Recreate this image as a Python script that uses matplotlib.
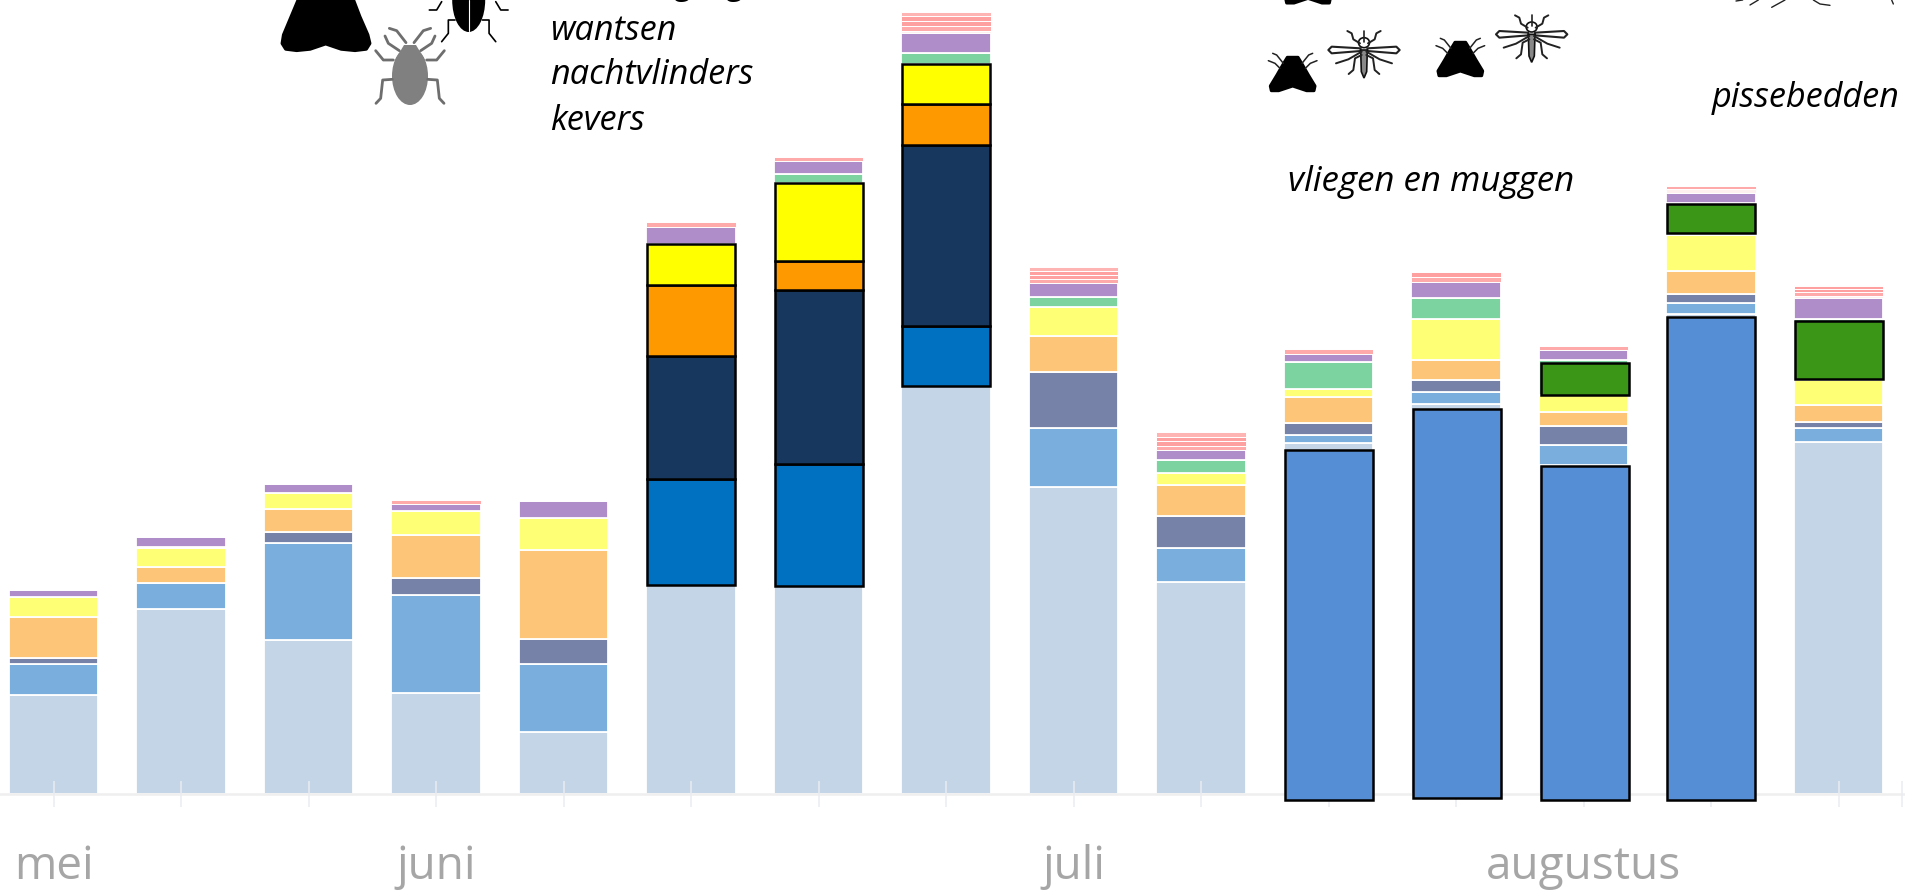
import matplotlib
matplotlib.use('Agg')
import numpy as np
import matplotlib.pyplot as plt
from matplotlib.patches import Polygon, Ellipse

plt.rcParams['font.family'] = ['Open Sans', 'DejaVu Sans']

maanden = ['mei', '', '', 'juni', '', '', '', '', 'juli', '', '', '', 'augustus', '', '']

# hoogte per groep, per week
overig = [98.1, 184.1, 153.1, 100.5, 61.5, 208.8, 207.3, 407.8, 306.8, 211.8, 350.3, 389.8, 328.8, 479.8, 351.8]
blauw = [31.3, 26.3, 97.7, 98.3, 68, 106, 122.5, 59.3, 58.7, 33.3, 8, 12, 20, 10.5, 14]
leisteen = [6.3, 0, 10.7, 16.7, 24.7, 123, 174, 181.7, 56.3, 32.7, 12.5, 12, 19, 9, 6]
oranje = [40.7, 15.7, 23.3, 43.3, 89, 71, 29, 40.5, 35.3, 31, 26, 19.5, 14, 23.5, 16.5]
geel = [19.7, 19, 16, 23.3, 32.7, 41, 78, 40.5, 29, 12, 8, 41.5, 17, 36, 25.5]
groen = [0, 1.5, 0, 0, 0, 0, 9, 11, 10, 13, 27, 21, 35, 31.5, 61]
paars = [7, 9.7, 8.7, 7.7, 16.3, 16.5, 12.5, 20, 14.4, 9.3, 8, 15.5, 10, 10, 21]
bleek = [0, 0, 0, 0, 0, 0, 0, 2, 0, 0, 0, 0, 0, 4, 2]
roze1 = [0, 0, 0, 4, 0, 5, 4.5, 4.8, 4, 4.5, 4.6, 5.3, 4, 3.5, 3.4]
roze2 = [0, 0, 0, 0, 0, 0, 0, 4.8, 4, 4.5, 0, 5.3, 0, 0, 3.4]
roze3 = [0, 0, 0, 0, 0, 0, 0, 4.8, 4, 4.5, 0, 0, 0, 0, 3.4]
roze4 = [0, 0, 0, 0, 0, 0, 0, 4.8, 4, 4.5, 0, 0, 0, 0, 0]

reeksen = [overig, blauw, leisteen, oranje, geel, groen, paars, bleek, roze1, roze2, roze3, roze4]
kleuren = ['#C5D5E8', '#7AAEDC', '#7682A8', '#FDC578', '#FFFF75', '#7DD3A0', '#AF8DC8',
           '#FFF0F0', '#FFAAAA', '#FFA0A0', '#FFA0A0', '#FFB4B4']
randen = [1.3, 1.3, 1.3, 1.3, 1.3, 1.3, 1.3, 0.7, 0.7, 0.7, 0.7, 0.7]

# omlijnde vakken
vet_weken = [5, 6, 7]
vet_kleuren = ['#0070C0', '#17375E', '#FF9900', '#FFFF00']

vlieg_x = [10, 11.01, 12.01, 13]
vlieg_onder = [-6, -4.7, -6, -6]
vlieg_boven = [343.8, 384.8, 327.8, 476.8]

pisse_x = [12.01, 13, 14]
pisse_onder = [398.8, 560.5, 414.5]
pisse_boven = [430.5, 589.1, 472.1]

fig = plt.figure(figsize=(19.05, 8.91), dpi=100)
ax = fig.add_axes([0, 0, 1, 1])
x = np.arange(15)

onder = np.zeros(15)
for waarden, kleur, rand in zip(reeksen, kleuren, randen):
    ax.bar(x, waarden, 0.7, bottom=onder, color=kleur, edgecolor='white', linewidth=rand, zorder=1)
    onder = onder + np.array(waarden)

hoog = np.array(overig, dtype=float)
for waarden, kleur in zip([blauw, leisteen, oranje, geel], vet_kleuren):
    w = np.array(waarden)
    ax.bar(vet_weken, w[vet_weken], 0.69, bottom=hoog[vet_weken], color=kleur,
           edgecolor='black', linewidth=1.8, zorder=3)
    hoog = hoog + w

ax.bar(vlieg_x, np.array(vlieg_boven) - np.array(vlieg_onder), 0.69, bottom=vlieg_onder,
       color='#558ED5', edgecolor='black', linewidth=1.8, zorder=3)
ax.bar(pisse_x, np.array(pisse_boven) - np.array(pisse_onder), 0.69, bottom=pisse_onder,
       color='#3B9617', edgecolor='black', linewidth=1.8, zorder=3)

ax.set_xlim(-53.6 / 127.5, (1905 - 53.6) / 127.5)
ax.set_ylim(-97.5, 793.5)
for kant in ['top', 'left', 'right']:
    ax.spines[kant].set_visible(False)
ax.spines['bottom'].set_position(('data', 0))
ax.spines['bottom'].set_color('#EFEFEF')
ax.spines['bottom'].set_linewidth(1.8)
ax.set_xticks(list(x) + [14.5])
ax.set_xticklabels(maanden + [''], fontsize=33, color='#A6A6A6')
ax.tick_params(axis='x', direction='inout', length=19.4, width=1.1, color='#E9ECF0', pad=27)
ax.set_axisbelow(False)
ax.set_yticks([])

# tekst en insecten in beeldpunten
top = fig.add_axes([0, 0, 1, 1], zorder=5)
top.set_xlim(0, 1905)
top.set_ylim(891, 0)
top.axis('off')
top.patch.set_alpha(0)

for tekst, tx, ty, grootte in [('vliesvleugeligen', 550, -6, 24.7), ('wantsen', 550, 39.5, 24.7),
                               ('nachtvlinders', 550, 84.5, 24.7), ('kevers', 550, 129.5, 24.7),
                               ('vliegen en muggen', 1288, 191, 25.1), ('pissebedden', 1712, 107, 24.7)]:
    top.text(tx, ty, tekst, fontsize=grootte, style='italic', color='black', va='baseline', ha='left')


def lijn(pts, kleur='black', dikte=1.0):
    pts = np.array(pts, dtype=float)
    top.plot(pts[:, 0], pts[:, 1], color=kleur, lw=dikte, solid_capstyle='round', solid_joinstyle='round')


def spiegel(pts, as_x):
    return [(2 * as_x - a, b) for a, b in pts]


# nachtvlinder
vlinder = [(118, -5), (95, 50), (72, 105), (68, 130), (78, 146), (110, 150), (150, 146), (197, 130), (244, 146),
           (285, 150), (318, 146), (328, 130), (322, 105), (298, 50), (277, -5)]
top.add_patch(Polygon([(260 + a / 3, b / 3) for a, b in vlinder], closed=True, fc='black', ec='black', lw=3,
                      joinstyle='round'))

# wants
for poot in [[(438, 128), (410, 92), (388, 85)], [(418, 152), (385, 130), (375, 108)],
             [(400, 180), (370, 180), (347, 152)], [(397, 238), (368, 240), (362, 295), (348, 310)]]:
    links = [(260 + a / 3, b / 3) for a, b in poot]
    lijn(links, '#6E6E6E', 2)
    lijn(spiegel(links, 410), '#6E6E6E', 2)
top.add_patch(Ellipse((410, 76), 36, 58, fc='#808080', ec='none'))
top.add_patch(Polygon([(395, 60), (404, 45), (416, 45), (425, 60)], closed=True, fc='#808080', ec='none'))

# kever
for poot in [[(545, 5), (530, 30), (508, 30)], [(585, 60), (565, 60), (565, 100), (545, 125)]]:
    links = [(260 + a / 3, b / 3) for a, b in poot]
    lijn(links, 'black', 1.2)
    lijn(spiegel(links, 468.7), 'black', 1.2)
top.add_patch(Ellipse((468.7, 0), 33, 64, fc='black', ec='none'))
lijn([(468.7, 0), (468.7, 31)], 'white', 0.8)


def vlieg(dx, dy):
    zet = lambda pts: [(1250 + (a + dx) / 3, (b + dy) / 3) for a, b in pts]
    romp = [(112, 172), (144, 172), (155, 190), (175, 225), (195, 258), (192, 272), (170, 272), (128, 258),
            (86, 272), (64, 272), (61, 258), (81, 225), (101, 190)]
    top.add_patch(Polygon(zet(romp), closed=True, fc='black', ec='black', lw=2.2, joinstyle='round'))
    for poot in [[(100, 190), (80, 165), (68, 160)], [(90, 205), (75, 190), (55, 182)]]:
        links = zet(poot)
        lijn(links, '#222222', 1.1)
        lijn(spiegel(links, 1250 + (128 + dx) / 3), '#222222', 1.1)


def mug(dx, dy):
    mx = 1250 + (342 + dx) / 3
    zet = lambda pts: [(1250 + (a + dx) / 3, (b + dy) / 3) for a, b in pts]
    vleugel = zet([(332, 145), (245, 140), (235, 150), (245, 160), (332, 153)])
    top.add_patch(Polygon(vleugel, closed=True, fc='white', ec='#222222', lw=1.5, joinstyle='round'))
    top.add_patch(Polygon(spiegel(vleugel, mx), closed=True, fc='white', ec='#222222', lw=1.5, joinstyle='round'))
    for poot in [[(330, 130), (310, 118), (305, 100), (292, 93)], [(335, 155), (295, 178), (258, 190)],
                 [(335, 165), (315, 175), (310, 210), (296, 222)]]:
        links = zet(poot)
        lijn(links, '#222222', 1.4)
        lijn(spiegel(links, mx), '#222222', 1.4)
    lijn(zet([(342, 92), (342, 125)]), '#222222', 1.2)
    top.add_patch(Ellipse(zet([(342, 128)])[0], 11, 10, fc='white', ec='#111111', lw=1.2))
    top.add_patch(Polygon(zet([(332, 150), (352, 150), (350, 215), (342, 234), (334, 215)]), closed=True,
                          fc='#888888', ec='#111111', lw=1.2))


vlieg(0, 0)
vlieg(503, -45)
vlieg(46, -263)
mug(0, 0)
mug(503, -47)

# pootjes bovenaan rechts
for poot in [[(168, 3), (188, 0)], [(210, 15), (235, 0)], [(275, 22), (315, 0)], [(400, 0), (420, 12), (450, 16)],
             [(640, 12), (635, 0)]]:
    lijn([(1680 + a / 3, b / 3) for a, b in poot], '#222222', 1.0)

fig.savefig('out.png', dpi=100)
